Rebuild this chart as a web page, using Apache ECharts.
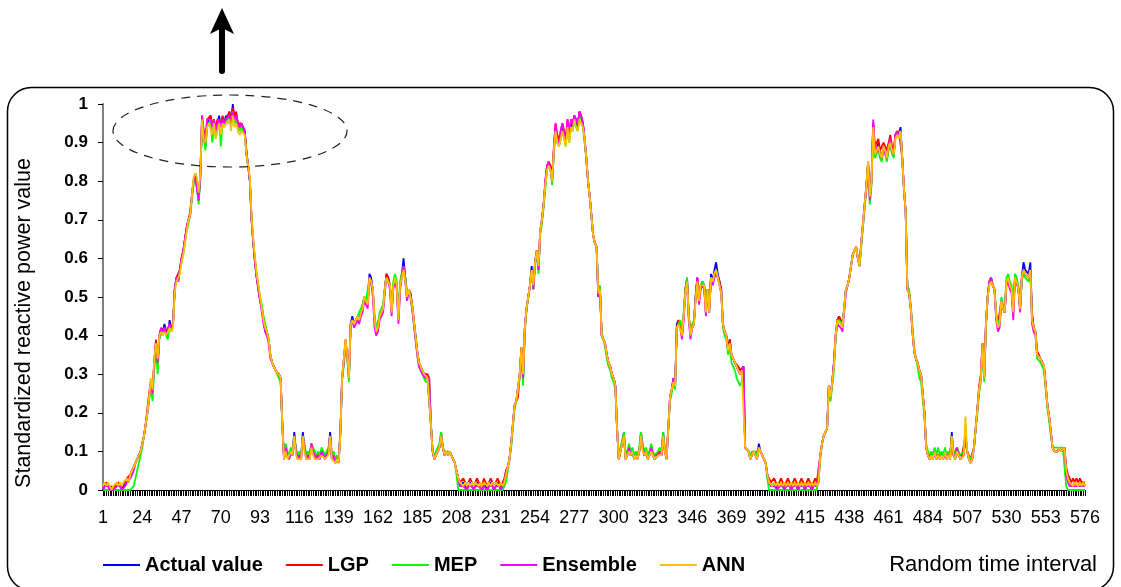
<!DOCTYPE html>
<html>
<head>
<meta charset="utf-8">
<script src="https://cdn.jsdelivr.net/npm/echarts@6/dist/echarts.min.js"></script>
<style>
  html, body { margin: 0; padding: 0; background: #fff; }
  #chart { width: 1121px; height: 587px; }
</style>
</head>
<body>
<div id="chart"></div>
<script>
var seriesNames = ['Actual value', 'LGP', 'MEP', 'Ensemble', 'ANN'];
var seriesColors = ['#0000ff', '#ff0000', '#00ff00', '#ff00ff', '#ffc000'];
var yTicks = [0, 0.1, 0.2, 0.3, 0.4, 0.5, 0.6, 0.7, 0.8, 0.9, 1];

// time intervals 1..576
var intervals = [];
for (var k = 1; k <= 576; k++) intervals.push(String(k));

var actual = [
0.00,0.01,0.02,0.01,0.00,0.01,0.00,0.00,0.01,0.02,0.01,0.00,0.01,0.02,0.03,0.02,0.04,0.05,0.06,0.07,
0.08,0.09,0.10,0.12,0.14,0.17,0.20,0.24,0.28,0.25,0.33,0.38,0.32,0.40,0.42,0.41,0.43,0.41,0.40,0.44,
0.42,0.43,0.52,0.55,0.54,0.57,0.60,0.62,0.65,0.68,0.70,0.71,0.76,0.80,0.82,0.79,0.75,0.82,0.96,0.92,
0.89,0.95,0.96,0.97,0.94,0.96,0.93,0.95,0.97,0.94,0.96,0.95,0.97,0.96,0.98,0.95,1.00,0.96,0.97,0.95,
0.94,0.95,0.94,0.93,0.87,0.84,0.80,0.70,0.64,0.59,0.55,0.52,0.49,0.47,0.44,0.42,0.41,0.39,0.35,0.33,
0.32,0.31,0.31,0.30,0.29,0.17,0.08,0.11,0.09,0.08,0.10,0.09,0.15,0.10,0.08,0.09,0.08,0.15,0.11,0.08,
0.09,0.08,0.12,0.10,0.09,0.08,0.09,0.08,0.10,0.09,0.08,0.09,0.10,0.15,0.08,0.09,0.07,0.08,0.07,0.15,
0.29,0.33,0.38,0.35,0.29,0.43,0.45,0.43,0.44,0.45,0.44,0.46,0.47,0.50,0.49,0.48,0.56,0.55,0.52,0.44,
0.41,0.42,0.45,0.46,0.47,0.52,0.56,0.55,0.53,0.46,0.53,0.55,0.53,0.44,0.53,0.56,0.60,0.55,0.50,0.52,
0.51,0.48,0.44,0.40,0.36,0.33,0.32,0.31,0.30,0.30,0.29,0.29,0.17,0.10,0.08,0.08,0.10,0.11,0.15,0.11,
0.09,0.10,0.09,0.10,0.09,0.08,0.07,0.05,0.03,0.01,0.01,0.02,0.01,0.00,0.01,0.02,0.01,0.00,0.01,0.02,
0.01,0.01,0.00,0.02,0.01,0.00,0.01,0.02,0.01,0.00,0.01,0.02,0.01,0.00,0.01,0.02,0.05,0.06,0.08,0.12,
0.17,0.22,0.23,0.23,0.30,0.37,0.29,0.42,0.47,0.50,0.53,0.58,0.52,0.59,0.62,0.57,0.67,0.70,0.74,0.79,
0.84,0.85,0.84,0.80,0.88,0.94,0.91,0.90,0.92,0.94,0.92,0.90,0.95,0.91,0.95,0.94,0.97,0.95,0.94,0.98,
0.96,0.95,0.91,0.86,0.80,0.76,0.71,0.66,0.64,0.63,0.50,0.52,0.40,0.39,0.38,0.35,0.33,0.32,0.30,0.29,
0.27,0.16,0.08,0.10,0.12,0.15,0.08,0.09,0.11,0.09,0.10,0.08,0.09,0.08,0.10,0.15,0.11,0.09,0.10,0.08,
0.09,0.11,0.09,0.08,0.08,0.09,0.10,0.09,0.15,0.10,0.08,0.16,0.24,0.26,0.29,0.27,0.43,0.44,0.44,0.40,
0.45,0.52,0.55,0.45,0.40,0.42,0.43,0.50,0.55,0.49,0.53,0.54,0.53,0.46,0.52,0.46,0.56,0.54,0.57,0.59,
0.56,0.54,0.52,0.43,0.41,0.40,0.36,0.39,0.35,0.34,0.33,0.32,0.31,0.30,0.31,0.32,0.11,0.11,0.10,0.08,
0.09,0.10,0.09,0.08,0.12,0.10,0.09,0.08,0.07,0.04,0.02,0.02,0.01,0.02,0.01,0.00,0.01,0.02,0.01,0.00,
0.01,0.02,0.01,0.00,0.01,0.02,0.01,0.00,0.01,0.02,0.01,0.00,0.01,0.02,0.01,0.00,0.01,0.02,0.01,0.02,
0.09,0.12,0.14,0.15,0.16,0.27,0.24,0.28,0.33,0.40,0.44,0.45,0.44,0.43,0.47,0.52,0.53,0.55,0.58,0.61,
0.62,0.63,0.60,0.58,0.64,0.69,0.74,0.79,0.85,0.76,0.80,0.95,0.87,0.88,0.90,0.87,0.86,0.89,0.88,0.86,
0.89,0.90,0.88,0.87,0.92,0.93,0.92,0.94,0.86,0.78,0.72,0.52,0.51,0.47,0.41,0.36,0.34,0.33,0.31,0.30,
0.30,0.20,0.11,0.09,0.08,0.09,0.08,0.10,0.08,0.09,0.08,0.09,0.08,0.10,0.08,0.09,0.08,0.15,0.09,0.08,
0.11,0.09,0.08,0.08,0.09,0.15,0.10,0.08,0.07,0.08,0.11,0.16,0.21,0.26,0.29,0.38,0.29,0.43,0.50,0.54,
0.55,0.53,0.52,0.45,0.42,0.43,0.49,0.47,0.46,0.54,0.55,0.53,0.52,0.46,0.55,0.54,0.52,0.47,0.55,0.59,
0.57,0.57,0.56,0.59,0.45,0.42,0.41,0.35,0.35,0.34,0.34,0.32,0.27,0.22,0.19,0.15,0.11,0.10,0.10,0.10,
0.11,0.10,0.10,0.11,0.05,0.03,0.02,0.02,0.01,0.02,0.02,0.01,0.02,0.01,0.02,0.01
];

var lgp = [
0.01,0.01,0.02,0.02,0.01,0.01,0.00,0.01,0.01,0.02,0.02,0.01,0.01,0.02,0.03,0.03,0.04,0.05,0.06,0.07,
0.08,0.09,0.10,0.12,0.14,0.17,0.21,0.25,0.28,0.26,0.33,0.39,0.33,0.40,0.41,0.41,0.42,0.41,0.41,0.43,
0.42,0.43,0.52,0.55,0.55,0.57,0.60,0.62,0.65,0.68,0.70,0.72,0.76,0.80,0.82,0.80,0.76,0.82,0.97,0.93,
0.91,0.96,0.96,0.97,0.95,0.95,0.94,0.96,0.96,0.95,0.97,0.95,0.96,0.97,0.98,0.95,0.99,0.97,0.98,0.95,
0.95,0.95,0.94,0.93,0.88,0.84,0.80,0.70,0.64,0.59,0.55,0.52,0.49,0.47,0.44,0.41,0.40,0.39,0.35,0.33,
0.32,0.31,0.31,0.30,0.29,0.17,0.08,0.11,0.09,0.09,0.10,0.09,0.14,0.10,0.09,0.09,0.09,0.14,0.11,0.09,
0.09,0.09,0.12,0.10,0.09,0.09,0.09,0.09,0.10,0.09,0.09,0.09,0.10,0.14,0.09,0.09,0.08,0.08,0.08,0.15,
0.29,0.34,0.39,0.35,0.30,0.43,0.44,0.43,0.44,0.45,0.44,0.46,0.48,0.50,0.49,0.48,0.55,0.55,0.52,0.44,
0.42,0.42,0.45,0.46,0.47,0.52,0.56,0.55,0.53,0.47,0.53,0.55,0.53,0.45,0.53,0.56,0.58,0.55,0.51,0.52,
0.51,0.48,0.44,0.40,0.36,0.33,0.32,0.31,0.30,0.30,0.30,0.29,0.17,0.10,0.08,0.09,0.10,0.11,0.14,0.11,
0.09,0.10,0.09,0.10,0.09,0.08,0.07,0.05,0.03,0.02,0.02,0.03,0.02,0.01,0.02,0.03,0.02,0.01,0.02,0.03,
0.02,0.02,0.01,0.03,0.02,0.01,0.02,0.03,0.02,0.01,0.02,0.03,0.02,0.01,0.02,0.03,0.05,0.06,0.08,0.12,
0.17,0.22,0.23,0.24,0.30,0.37,0.30,0.42,0.47,0.50,0.53,0.57,0.53,0.59,0.62,0.58,0.67,0.70,0.74,0.80,
0.84,0.85,0.84,0.81,0.89,0.95,0.92,0.91,0.93,0.95,0.93,0.91,0.96,0.92,0.96,0.95,0.97,0.96,0.95,0.98,
0.97,0.95,0.91,0.86,0.80,0.76,0.71,0.66,0.64,0.63,0.51,0.52,0.40,0.39,0.38,0.35,0.33,0.32,0.30,0.29,
0.27,0.16,0.08,0.10,0.12,0.14,0.09,0.09,0.11,0.09,0.10,0.09,0.09,0.09,0.10,0.14,0.11,0.09,0.10,0.09,
0.09,0.11,0.09,0.09,0.09,0.09,0.10,0.09,0.14,0.10,0.09,0.16,0.24,0.26,0.28,0.27,0.42,0.44,0.43,0.40,
0.45,0.52,0.54,0.45,0.41,0.42,0.43,0.50,0.55,0.49,0.53,0.53,0.53,0.47,0.52,0.47,0.55,0.54,0.56,0.57,
0.55,0.54,0.52,0.43,0.41,0.40,0.37,0.39,0.35,0.34,0.33,0.33,0.32,0.31,0.31,0.32,0.11,0.11,0.10,0.09,
0.09,0.10,0.09,0.09,0.11,0.10,0.09,0.09,0.07,0.04,0.03,0.02,0.02,0.03,0.02,0.01,0.02,0.03,0.02,0.01,
0.02,0.03,0.02,0.01,0.02,0.03,0.02,0.01,0.02,0.03,0.02,0.01,0.02,0.03,0.02,0.01,0.02,0.03,0.02,0.02,
0.09,0.12,0.14,0.15,0.16,0.27,0.24,0.28,0.33,0.40,0.44,0.45,0.44,0.43,0.47,0.52,0.53,0.55,0.58,0.61,
0.62,0.63,0.60,0.59,0.64,0.69,0.74,0.79,0.85,0.77,0.80,0.95,0.89,0.90,0.91,0.88,0.88,0.90,0.89,0.88,
0.90,0.92,0.89,0.88,0.92,0.92,0.93,0.93,0.86,0.78,0.72,0.52,0.51,0.47,0.41,0.36,0.34,0.33,0.31,0.30,
0.30,0.20,0.11,0.09,0.09,0.09,0.09,0.10,0.09,0.09,0.09,0.09,0.09,0.10,0.09,0.09,0.09,0.14,0.09,0.09,
0.11,0.09,0.09,0.09,0.09,0.14,0.10,0.09,0.08,0.08,0.11,0.16,0.21,0.27,0.30,0.38,0.30,0.43,0.50,0.54,
0.55,0.53,0.52,0.45,0.43,0.43,0.49,0.47,0.46,0.54,0.55,0.53,0.52,0.47,0.55,0.54,0.52,0.47,0.55,0.57,
0.56,0.56,0.55,0.57,0.46,0.42,0.41,0.36,0.35,0.34,0.34,0.32,0.27,0.22,0.19,0.15,0.11,0.10,0.10,0.10,
0.11,0.10,0.10,0.11,0.06,0.04,0.03,0.02,0.03,0.02,0.03,0.02,0.03,0.02,0.02,0.02
];

var mep = [
0.00,0.00,0.00,0.00,0.00,0.00,0.00,0.00,0.00,0.00,0.00,0.00,0.00,0.00,0.00,0.00,0.00,0.00,0.01,0.03,
0.05,0.07,0.09,0.11,0.14,0.17,0.20,0.23,0.27,0.23,0.31,0.37,0.30,0.39,0.41,0.40,0.42,0.40,0.39,0.43,
0.41,0.43,0.52,0.55,0.54,0.57,0.59,0.61,0.64,0.67,0.69,0.71,0.75,0.79,0.81,0.78,0.74,0.81,0.95,0.91,
0.88,0.94,0.95,0.96,0.90,0.95,0.91,0.94,0.96,0.89,0.95,0.94,0.96,0.95,0.97,0.94,0.98,0.95,0.96,0.94,
0.93,0.94,0.93,0.92,0.87,0.84,0.80,0.70,0.64,0.60,0.56,0.53,0.50,0.48,0.45,0.43,0.41,0.39,0.35,0.33,
0.32,0.31,0.30,0.29,0.28,0.17,0.09,0.12,0.10,0.09,0.11,0.10,0.14,0.11,0.09,0.10,0.09,0.14,0.12,0.09,
0.10,0.09,0.12,0.11,0.10,0.09,0.10,0.09,0.11,0.10,0.09,0.10,0.11,0.14,0.09,0.10,0.08,0.09,0.08,0.15,
0.28,0.33,0.37,0.34,0.28,0.42,0.44,0.43,0.44,0.45,0.45,0.47,0.48,0.50,0.49,0.49,0.55,0.54,0.52,0.45,
0.42,0.43,0.46,0.47,0.48,0.52,0.55,0.54,0.53,0.47,0.54,0.56,0.54,0.45,0.54,0.56,0.58,0.55,0.51,0.52,
0.50,0.47,0.43,0.39,0.35,0.32,0.31,0.30,0.29,0.28,0.28,0.28,0.17,0.10,0.09,0.09,0.11,0.12,0.15,0.11,
0.10,0.10,0.10,0.10,0.09,0.08,0.07,0.04,0.00,0.00,0.00,0.00,0.00,0.00,0.00,0.00,0.00,0.00,0.00,0.00,
0.00,0.00,0.00,0.00,0.00,0.00,0.00,0.00,0.00,0.00,0.00,0.00,0.00,0.00,0.00,0.00,0.02,0.05,0.08,0.11,
0.16,0.21,0.23,0.23,0.29,0.35,0.27,0.41,0.47,0.50,0.53,0.57,0.52,0.59,0.61,0.56,0.66,0.69,0.73,0.78,
0.83,0.84,0.83,0.79,0.87,0.93,0.90,0.89,0.91,0.93,0.91,0.89,0.94,0.90,0.94,0.93,0.96,0.94,0.93,0.97,
0.95,0.94,0.90,0.86,0.80,0.76,0.71,0.66,0.64,0.63,0.52,0.53,0.41,0.39,0.37,0.34,0.32,0.31,0.29,0.28,
0.26,0.16,0.09,0.11,0.13,0.15,0.09,0.10,0.12,0.10,0.11,0.09,0.10,0.09,0.11,0.15,0.12,0.10,0.11,0.09,
0.10,0.12,0.10,0.09,0.09,0.10,0.11,0.10,0.15,0.11,0.09,0.16,0.23,0.25,0.28,0.26,0.42,0.43,0.44,0.41,
0.46,0.52,0.55,0.45,0.41,0.43,0.44,0.50,0.54,0.49,0.53,0.54,0.53,0.47,0.52,0.47,0.55,0.53,0.56,0.57,
0.55,0.53,0.51,0.42,0.40,0.39,0.35,0.37,0.33,0.32,0.31,0.29,0.28,0.27,0.28,0.30,0.11,0.11,0.10,0.09,
0.10,0.10,0.10,0.09,0.11,0.10,0.09,0.09,0.07,0.03,0.00,0.00,0.00,0.00,0.00,0.00,0.00,0.00,0.00,0.00,
0.00,0.00,0.00,0.00,0.00,0.00,0.00,0.00,0.00,0.00,0.00,0.00,0.00,0.00,0.00,0.00,0.00,0.00,0.00,0.00,
0.08,0.12,0.14,0.15,0.16,0.26,0.23,0.27,0.31,0.39,0.43,0.44,0.44,0.43,0.47,0.52,0.53,0.55,0.58,0.61,
0.62,0.63,0.60,0.58,0.63,0.68,0.73,0.78,0.84,0.74,0.79,0.94,0.86,0.87,0.88,0.86,0.85,0.88,0.87,0.85,
0.88,0.89,0.87,0.86,0.91,0.92,0.91,0.93,0.85,0.78,0.72,0.53,0.52,0.48,0.42,0.37,0.34,0.32,0.29,0.28,
0.28,0.19,0.12,0.10,0.09,0.10,0.09,0.11,0.09,0.11,0.09,0.10,0.09,0.11,0.09,0.10,0.09,0.14,0.10,0.09,
0.11,0.10,0.09,0.09,0.10,0.15,0.10,0.09,0.08,0.09,0.11,0.16,0.20,0.25,0.28,0.36,0.28,0.42,0.50,0.54,
0.55,0.53,0.52,0.46,0.43,0.44,0.50,0.48,0.47,0.55,0.56,0.54,0.53,0.47,0.56,0.55,0.53,0.48,0.54,0.56,
0.55,0.55,0.54,0.56,0.44,0.41,0.40,0.34,0.34,0.33,0.33,0.31,0.26,0.21,0.18,0.14,0.11,0.11,0.11,0.11,
0.11,0.11,0.11,0.11,0.01,0.00,0.00,0.00,0.00,0.00,0.00,0.00,0.00,0.00,0.00,0.00
];

var ensemble = [
0.00,0.01,0.01,0.01,0.00,0.00,0.00,0.00,0.01,0.01,0.01,0.00,0.00,0.01,0.02,0.02,0.03,0.04,0.05,0.07,
0.08,0.09,0.10,0.12,0.14,0.17,0.20,0.24,0.28,0.25,0.33,0.38,0.33,0.40,0.42,0.41,0.42,0.40,0.40,0.43,
0.42,0.43,0.52,0.55,0.54,0.57,0.60,0.62,0.65,0.68,0.70,0.71,0.76,0.80,0.81,0.78,0.75,0.81,0.97,0.92,
0.90,0.96,0.96,0.96,0.94,0.96,0.93,0.95,0.96,0.94,0.96,0.95,0.96,0.96,0.97,0.95,0.98,0.96,0.97,0.95,
0.94,0.95,0.94,0.93,0.87,0.84,0.80,0.70,0.64,0.59,0.55,0.52,0.49,0.46,0.43,0.41,0.40,0.38,0.34,0.33,
0.32,0.31,0.31,0.30,0.29,0.17,0.08,0.11,0.09,0.08,0.10,0.09,0.14,0.10,0.08,0.09,0.08,0.14,0.11,0.08,
0.09,0.08,0.12,0.10,0.09,0.08,0.09,0.08,0.10,0.09,0.08,0.09,0.10,0.14,0.08,0.09,0.07,0.08,0.07,0.15,
0.29,0.33,0.38,0.35,0.29,0.43,0.44,0.42,0.43,0.44,0.43,0.45,0.46,0.49,0.48,0.47,0.55,0.54,0.50,0.42,
0.40,0.41,0.44,0.45,0.46,0.51,0.55,0.54,0.52,0.45,0.52,0.54,0.52,0.43,0.52,0.55,0.58,0.54,0.49,0.51,
0.50,0.47,0.43,0.39,0.35,0.32,0.31,0.30,0.30,0.29,0.29,0.29,0.17,0.10,0.08,0.08,0.10,0.11,0.14,0.11,
0.09,0.10,0.09,0.10,0.09,0.08,0.07,0.05,0.03,0.01,0.01,0.01,0.01,0.00,0.01,0.01,0.01,0.00,0.01,0.01,
0.01,0.01,0.00,0.01,0.01,0.00,0.01,0.01,0.01,0.00,0.01,0.01,0.01,0.00,0.01,0.01,0.04,0.06,0.08,0.12,
0.17,0.22,0.23,0.23,0.30,0.36,0.29,0.42,0.47,0.50,0.53,0.57,0.52,0.59,0.62,0.57,0.67,0.70,0.74,0.80,
0.84,0.85,0.83,0.80,0.88,0.95,0.91,0.90,0.93,0.95,0.92,0.90,0.96,0.92,0.96,0.95,0.97,0.96,0.95,0.98,
0.97,0.95,0.91,0.86,0.80,0.76,0.71,0.66,0.64,0.63,0.50,0.52,0.40,0.39,0.38,0.35,0.33,0.32,0.30,0.29,
0.27,0.16,0.08,0.10,0.12,0.14,0.08,0.09,0.11,0.09,0.10,0.08,0.09,0.08,0.10,0.14,0.11,0.09,0.10,0.08,
0.09,0.11,0.09,0.08,0.08,0.09,0.10,0.09,0.14,0.10,0.08,0.16,0.24,0.26,0.29,0.27,0.42,0.43,0.42,0.39,
0.44,0.51,0.54,0.44,0.39,0.42,0.43,0.50,0.55,0.48,0.52,0.53,0.52,0.45,0.51,0.46,0.55,0.53,0.55,0.56,
0.55,0.53,0.51,0.43,0.41,0.40,0.36,0.38,0.35,0.34,0.33,0.32,0.31,0.30,0.31,0.32,0.11,0.11,0.10,0.08,
0.09,0.10,0.09,0.08,0.11,0.10,0.09,0.08,0.07,0.04,0.02,0.01,0.01,0.01,0.01,0.00,0.01,0.01,0.01,0.00,
0.01,0.01,0.01,0.00,0.01,0.01,0.01,0.00,0.01,0.01,0.01,0.00,0.01,0.01,0.01,0.00,0.01,0.01,0.01,0.01,
0.09,0.12,0.14,0.15,0.16,0.27,0.24,0.28,0.33,0.40,0.43,0.43,0.42,0.41,0.46,0.51,0.53,0.55,0.58,0.61,
0.62,0.63,0.60,0.58,0.64,0.69,0.74,0.78,0.84,0.75,0.80,0.96,0.88,0.89,0.89,0.87,0.86,0.89,0.87,0.86,
0.89,0.91,0.88,0.87,0.92,0.93,0.92,0.93,0.86,0.78,0.72,0.52,0.51,0.47,0.41,0.36,0.34,0.33,0.31,0.30,
0.30,0.20,0.11,0.09,0.08,0.09,0.08,0.10,0.08,0.09,0.08,0.09,0.08,0.10,0.08,0.09,0.08,0.14,0.09,0.08,
0.11,0.09,0.08,0.08,0.09,0.14,0.10,0.08,0.07,0.08,0.11,0.16,0.21,0.26,0.29,0.38,0.29,0.43,0.50,0.54,
0.55,0.53,0.52,0.44,0.41,0.42,0.49,0.47,0.46,0.53,0.54,0.52,0.51,0.44,0.55,0.54,0.52,0.46,0.55,0.57,
0.56,0.56,0.55,0.57,0.43,0.41,0.40,0.35,0.35,0.34,0.34,0.32,0.27,0.22,0.19,0.15,0.11,0.10,0.10,0.10,
0.11,0.10,0.10,0.11,0.04,0.02,0.01,0.01,0.01,0.01,0.01,0.01,0.01,0.01,0.01,0.01
];

var ann = [
0.01,0.02,0.01,0.02,0.01,0.00,0.01,0.01,0.02,0.01,0.02,0.01,0.02,0.02,0.03,0.02,0.04,0.05,0.06,0.07,
0.08,0.09,0.10,0.12,0.14,0.17,0.20,0.24,0.29,0.26,0.34,0.38,0.34,0.40,0.41,0.40,0.41,0.40,0.40,0.42,
0.41,0.42,0.51,0.54,0.54,0.56,0.59,0.61,0.64,0.67,0.70,0.71,0.76,0.81,0.82,0.81,0.77,0.82,0.96,0.91,
0.90,0.94,0.95,0.95,0.92,0.95,0.91,0.93,0.95,0.92,0.95,0.94,0.95,0.95,0.96,0.93,0.97,0.94,0.95,0.93,
0.92,0.93,0.93,0.92,0.87,0.84,0.81,0.71,0.65,0.60,0.56,0.53,0.50,0.47,0.44,0.42,0.41,0.39,0.35,0.33,
0.32,0.31,0.31,0.30,0.29,0.17,0.08,0.10,0.08,0.08,0.10,0.09,0.14,0.09,0.08,0.08,0.08,0.14,0.10,0.08,
0.08,0.08,0.11,0.09,0.08,0.08,0.08,0.08,0.09,0.09,0.08,0.08,0.09,0.14,0.08,0.08,0.07,0.08,0.07,0.14,
0.29,0.34,0.39,0.35,0.29,0.43,0.44,0.43,0.44,0.45,0.44,0.46,0.47,0.50,0.49,0.48,0.55,0.54,0.52,0.44,
0.41,0.42,0.45,0.46,0.47,0.52,0.55,0.54,0.53,0.46,0.53,0.55,0.53,0.44,0.53,0.55,0.57,0.54,0.50,0.52,
0.50,0.48,0.44,0.40,0.36,0.33,0.32,0.31,0.30,0.30,0.29,0.29,0.17,0.10,0.08,0.08,0.10,0.11,0.14,0.11,
0.09,0.10,0.09,0.10,0.09,0.08,0.07,0.05,0.03,0.02,0.02,0.01,0.02,0.01,0.02,0.01,0.02,0.01,0.02,0.02,
0.01,0.02,0.01,0.02,0.02,0.01,0.02,0.01,0.02,0.01,0.02,0.02,0.01,0.02,0.01,0.02,0.04,0.06,0.08,0.12,
0.17,0.22,0.23,0.23,0.30,0.37,0.30,0.42,0.47,0.50,0.53,0.57,0.53,0.59,0.62,0.58,0.67,0.70,0.74,0.79,
0.83,0.84,0.83,0.80,0.88,0.93,0.90,0.89,0.91,0.93,0.91,0.89,0.94,0.90,0.94,0.93,0.96,0.94,0.93,0.96,
0.95,0.94,0.91,0.86,0.80,0.76,0.71,0.66,0.64,0.63,0.51,0.52,0.40,0.39,0.38,0.35,0.33,0.32,0.30,0.29,
0.27,0.16,0.08,0.10,0.12,0.14,0.08,0.09,0.10,0.09,0.10,0.08,0.09,0.08,0.10,0.14,0.10,0.09,0.10,0.08,
0.09,0.10,0.09,0.08,0.08,0.09,0.09,0.09,0.14,0.10,0.08,0.16,0.24,0.26,0.28,0.27,0.42,0.43,0.43,0.40,
0.45,0.51,0.54,0.45,0.40,0.42,0.43,0.49,0.54,0.49,0.53,0.53,0.53,0.46,0.52,0.46,0.55,0.54,0.56,0.57,
0.55,0.53,0.51,0.43,0.41,0.40,0.36,0.38,0.35,0.34,0.33,0.32,0.31,0.30,0.31,0.31,0.11,0.11,0.10,0.08,
0.09,0.10,0.09,0.08,0.11,0.10,0.09,0.08,0.07,0.04,0.02,0.02,0.01,0.02,0.01,0.02,0.01,0.02,0.01,0.02,
0.01,0.02,0.01,0.02,0.01,0.02,0.01,0.02,0.01,0.02,0.01,0.02,0.01,0.02,0.01,0.02,0.01,0.02,0.01,0.02,
0.09,0.12,0.14,0.15,0.16,0.27,0.24,0.28,0.32,0.40,0.44,0.44,0.43,0.42,0.47,0.52,0.53,0.55,0.58,0.61,
0.62,0.63,0.60,0.58,0.64,0.69,0.74,0.79,0.85,0.76,0.80,0.94,0.87,0.88,0.89,0.87,0.86,0.89,0.88,0.86,
0.89,0.90,0.88,0.87,0.91,0.92,0.91,0.93,0.86,0.78,0.72,0.52,0.51,0.47,0.41,0.36,0.34,0.33,0.31,0.30,
0.30,0.20,0.11,0.09,0.08,0.09,0.08,0.10,0.08,0.09,0.08,0.09,0.08,0.10,0.08,0.09,0.08,0.14,0.09,0.08,
0.10,0.09,0.08,0.08,0.09,0.19,0.10,0.08,0.07,0.08,0.11,0.16,0.21,0.26,0.29,0.38,0.29,0.43,0.50,0.53,
0.54,0.53,0.52,0.45,0.42,0.43,0.49,0.47,0.46,0.54,0.55,0.53,0.52,0.46,0.55,0.54,0.52,0.47,0.55,0.57,
0.56,0.56,0.55,0.57,0.44,0.42,0.41,0.35,0.35,0.34,0.34,0.32,0.27,0.22,0.19,0.15,0.11,0.10,0.10,0.10,
0.11,0.10,0.10,0.11,0.05,0.03,0.02,0.02,0.01,0.02,0.02,0.01,0.02,0.01,0.02,0.01
];

var seriesData = [actual, lgp, mep, ensemble, ann];
var font = '"Liberation Sans", Arial, Helvetica, sans-serif';

var chart = echarts.init(document.getElementById('chart'), null, { renderer: 'canvas' });

var series = seriesNames.map(function (name, i) {
  return {
    name: name,
    type: 'line',
    data: seriesData[i],
    showSymbol: false,
    symbol: 'none',
    lineStyle: { color: seriesColors[i], width: 1.8 },
    itemStyle: { color: seriesColors[i] },
    emphasis: { disabled: true }
  };
});

var option = {
  animation: false,
  backgroundColor: '#fff',
  grid: { left: 103, right: 36, top: 104, bottom: 97 },
  legend: {
    data: seriesNames,
    left: 103,
    top: 555,
    padding: 0,
    icon: 'rect',
    itemWidth: 37,
    itemHeight: 2,
    itemGap: 23,
    textStyle: { fontFamily: font, fontWeight: 'bold', fontSize: 20, color: '#000' }
  },
  xAxis: {
    type: 'category',
    data: intervals,
    boundaryGap: false,
    axisLine: { lineStyle: { color: '#000', width: 1 } },
    axisTick: { show: true, interval: 0, length: 6, lineStyle: { color: '#000', width: 1 } },
    axisLabel: { interval: 22, margin: 19, fontFamily: font, fontSize: 18, color: '#000' },
    splitLine: { show: false }
  },
  yAxis: {
    type: 'value',
    min: yTicks[0],
    max: yTicks[yTicks.length - 1],
    interval: 0.1,
    axisLine: { show: true, lineStyle: { color: '#808080', width: 2 } },
    axisTick: { show: true, length: 5, lineStyle: { color: '#000', width: 1 } },
    axisLabel: { margin: 15, fontFamily: font, fontSize: 17, fontWeight: 'bold', color: '#000' },
    splitLine: { show: false }
  },
  graphic: [
    {
      type: 'rect',
      shape: { x: 7.5, y: 87.5, width: 1106, height: 503, r: 24 },
      style: { fill: 'none', stroke: '#000', lineWidth: 1.5 },
      silent: true
    },
    {
      type: 'ellipse',
      shape: { cx: 230, cy: 131, rx: 117, ry: 36 },
      style: { fill: 'none', stroke: '#222', lineWidth: 1.2, lineDash: [9, 7] },
      z: 10,
      silent: true
    },
    {
      type: 'line',
      shape: { x1: 222, y1: 28, x2: 222, y2: 71 },
      style: { stroke: '#000', lineWidth: 6, lineCap: 'round' },
      silent: true
    },
    {
      type: 'polygon',
      shape: { points: [[222, 8], [234, 34], [222, 28], [210, 34]] },
      style: { fill: '#000' },
      silent: true
    },
    {
      type: 'text',
      x: 24,
      y: 323,
      rotation: Math.PI / 2,
      style: {
        text: 'Standardized reactive power value',
        font: '21.5px ' + font,
        fill: '#000',
        textAlign: 'center',
        textVerticalAlign: 'middle'
      },
      silent: true
    },
    {
      type: 'text',
      x: 1097,
      y: 565,
      style: {
        text: 'Random time interval',
        font: '22px ' + font,
        fill: '#000',
        textAlign: 'right',
        textVerticalAlign: 'middle'
      },
      silent: true
    }
  ],
  series: series
};

chart.setOption(option);
</script>
</body>
</html>
